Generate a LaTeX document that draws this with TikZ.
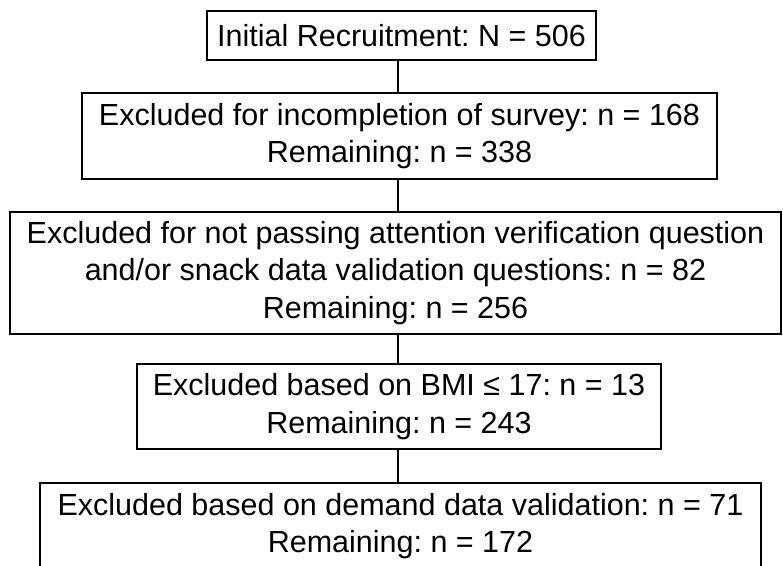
\documentclass[tikz,border=0pt]{standalone}
\usepackage{fontspec}
\setmainfont{Liberation Sans}
\frenchspacing

\tikzset{
  flowbox/.style={draw, line width=2.7pt, rectangle, inner sep=0pt, align=center,
    font=\fontsize{30.5}{37.5}\selectfont},
  link/.style={draw, line width=1.6pt},
}

\begin{document}
\begin{tikzpicture}[x=1pt,y=-1pt]
  \useasboundingbox (0,0) rectangle (783,565);
  \clip (0,0) rectangle (783,565);
  \fill[white] (0,0) rectangle (783,565);

  % vertical axis shared by all connectors
  \coordinate (spine) at (398,0);

  \node[flowbox, minimum width=389pt, minimum height=49pt] (b1) at (401.5,35.5)
    {Initial Recruitment: N = 506};
  \node[flowbox, minimum width=635pt, minimum height=86pt] (b2) at (399.5,136)
    {Excluded for incompletion of survey: n = 168\\Remaining: n = 338};
  \node[flowbox, minimum width=771pt, minimum height=122pt] (b3) at (395.5,273)
    {Excluded for not passing attention verification question\\and/or snack data validation questions: n = 82\\Remaining: n = 256};
  \node[flowbox, minimum width=524pt, minimum height=85pt] (b4) at (399,406.5)
    {Excluded based on BMI ≤ 17: n = 13\\Remaining: n = 243};
  \node[flowbox, minimum width=721pt, minimum height=86pt] (b5) at (400.5,526)
    {Excluded based on demand data validation: n = 71\\Remaining: n = 172};

  \foreach \a/\b in {b1/b2,b2/b3,b3/b4,b4/b5}
    \draw[link] (\a.south -| spine) -- (\b.north -| spine);
\end{tikzpicture}
\end{document}
